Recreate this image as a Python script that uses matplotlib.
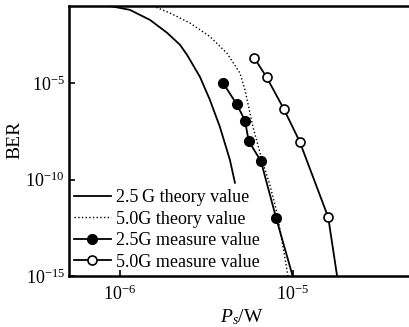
import numpy as np
import matplotlib
matplotlib.use('Agg')
import matplotlib.pyplot as plt

plt.rcParams['font.family'] = ['Liberation Serif', 'DejaVu Serif']
plt.rcParams['mathtext.fontset'] = 'custom'
plt.rcParams['mathtext.rm'] = 'Liberation Serif'
plt.rcParams['mathtext.it'] = 'Liberation Serif:italic'

# 2.5G theory curve
th25_p = [8.75e-7, 1.14e-6, 1.49e-6, 1.87e-6, 2.22e-6, 2.44e-6, 2.9e-6, 3.31e-6, 3.78e-6,
          4.32e-6, 4.62e-6]
th25_ber = [1e-1, 6.3e-2, 1.9e-2, 4.1e-3, 9.8e-4, 2.95e-4, 2.1e-5, 1.35e-6, 5.4e-8,
            1.05e-9, 6.8e-11]

# 5.0G theory curve
th50_p = [1.55e-6, 1.95e-6, 2.54e-6, 3.31e-6, 4.15e-6, 4.94e-6, 5.28e-6, 5.87e-6, 6.62e-6,
          7.36e-6, 8.09e-6, 8.76e-6, 9.36e-6]
th50_ber = [1e-1, 4.3e-2, 1.3e-2, 2.6e-3, 3.6e-4, 3.3e-5, 4.5e-6, 5.4e-8, 1.05e-9,
            5.2e-11, 1.86e-12, 3.2e-14, 1e-15]

# 2.5G measured (last entry is where the fitted line meets the axis)
m25_p = [3.93e-6, 4.73e-6, 5.28e-6, 5.55e-6, 6.53e-6, 8.0e-6, 9.96e-6]
m25_ber = [1.07e-5, 8.1e-7, 1.15e-7, 9.8e-9, 9e-10, 1e-12, 1e-15]

# 5.0G measured
m50_p = [5.97e-6, 7.05e-6, 8.83e-6, 1.094e-5, 1.6e-5, 1.80e-5]
m50_ber = [2.05e-4, 2.0e-5, 4.8e-7, 9.3e-9, 1.1e-12, 1e-15]

fig = plt.figure(figsize=(4.09, 3.27), dpi=100)
ax = fig.add_axes([0.1687, 0.156, 0.8313, 0.8257])

ax.plot(th25_p, th25_ber, '-', color='black', lw=1.3, label='2.5\u2009G theory value')
ax.plot(th50_p, th50_ber, ':', color='black', lw=1.0, label='5.0G theory value')
ax.plot(m25_p, m25_ber, '-o', color='black', lw=1.3, ms=7, markevery=list(range(len(m25_p) - 1)),
        label='2.5G measure value')
ax.plot(m50_p, m50_ber, '-o', color='black', lw=1.3, ms=6.5, mfc='white', mew=1.2,
        markevery=list(range(len(m50_p) - 1)), label='5.0G measure value')

ax.set_xscale('log')
ax.set_yscale('log')
ax.set_xlim(5.07e-7, 4.69e-5)
ax.set_ylim(1e-15, 1e-1)

ax.set_xticks([1e-6, 1e-5])
ax.set_xticklabels([r'$10^{-6}$', r'$10^{-5}$'])
ax.set_yticks([1e-15, 1e-10, 1e-5])
ax.set_yticklabels([r'$10^{-15}$', r'$10^{-10}$', r'$10^{-5}$'])
ax.minorticks_off()
ax.tick_params(direction='in', length=4, width=1.2, labelsize=13, pad=3)
ax.tick_params(axis='x', pad=6)

for s in ['left', 'bottom', 'top']:
    ax.spines[s].set_linewidth(1.8)
ax.spines['right'].set_visible(False)

ax.set_ylabel('BER', fontsize=14)
ax.yaxis.set_label_coords(-0.135, 0.504)
ax.set_xlabel(r'$P_s$/W', fontsize=14, labelpad=2)
ax.xaxis.set_label_coords(0.509, -0.115)

ax.legend(loc='lower left', bbox_to_anchor=(0.0, 0.0), frameon=False, fontsize=13,
          handlelength=2.0, handletextpad=0.3, labelspacing=0.25, borderpad=0.2,
          borderaxespad=0.1)

fig.savefig('out.png', dpi=100)
